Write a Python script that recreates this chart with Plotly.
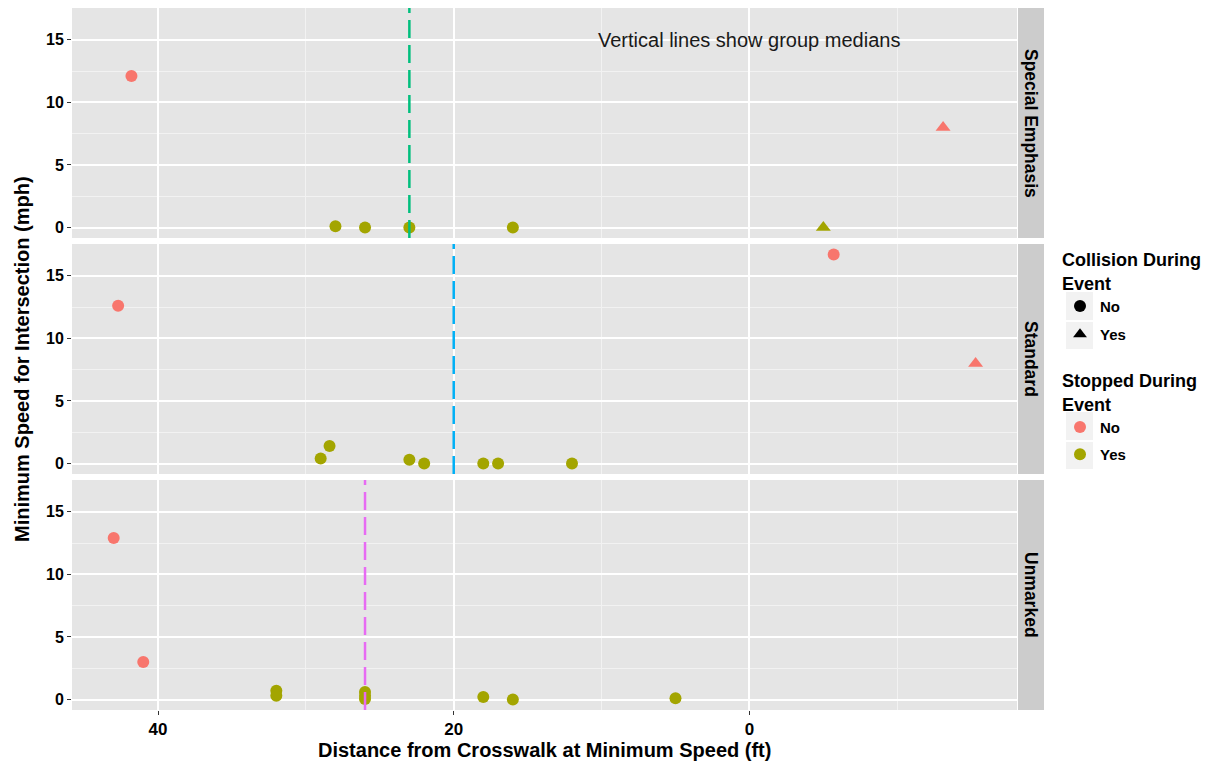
import numpy as np
import plotly.graph_objects as go

# ---- data ----
facets = ["Special Emphasis", "Standard", "Unmarked"]

se_dist = [41.8, 28.0, 26.0, 23.0, 16.0, -5.0, -13.1]
se_speed = [12.1, 0.1, 0.0, 0.0, 0.0, 0.0, 8.0]
se_stopped = ["No", "Yes", "Yes", "Yes", "Yes", "Yes", "No"]
se_collision = ["No", "No", "No", "No", "No", "Yes", "Yes"]

st_dist = [42.7, 29.0, 28.4, 23.0, 22.0, 18.0, 17.0, 12.0, -5.7, -15.3]
st_speed = [12.6, 0.4, 1.4, 0.3, 0.0, 0.0, 0.0, 0.0, 16.7, 8.0]
st_stopped = ["No", "Yes", "Yes", "Yes", "Yes", "Yes", "Yes", "Yes", "No", "No"]
st_collision = ["No", "No", "No", "No", "No", "No", "No", "No", "No", "Yes"]

un_dist = [43.0, 41.0, 32.0, 32.0, 26.0, 26.0, 26.0, 18.0, 16.0, 5.0]
un_speed = [12.9, 3.0, 0.7, 0.3, 0.6, 0.3, 0.05, 0.2, 0.0, 0.1]
un_stopped = ["No", "No", "Yes", "Yes", "Yes", "Yes", "Yes", "Yes", "Yes", "Yes"]
un_collision = ["No"] * 10

x_ticks = [40, 20, 0]
y_ticks = [0, 5, 10, 15]

stop_colors = {"No": "#F8766D", "Yes": "#A3A500"}
median_colors = ["#00BF7D", "#00B0F6", "#E76BF3"]
shape_symbols = {"No": "circle", "Yes": "triangle-up"}

groups = [
    (se_dist, se_speed, se_stopped, se_collision),
    (st_dist, st_speed, st_stopped, st_collision),
    (un_dist, un_speed, un_stopped, un_collision),
]

W, H = 1210, 766
OFF = 8  # page body margin shifts the figure by 8px
px_x = lambda p: (p - OFF) / W
px_y = lambda p: 1 - (p - OFF) / H

panel_px = [(8, 238), (244, 474), (480, 710)]
x_left, x_right = 72, 1017

fig = go.Figure()

FONT = "Liberation Sans, Arial, sans-serif"

for i, (d, s, stp, col) in enumerate(groups):
    xa = "x" if i == 0 else f"x{i+1}"
    ya = "y" if i == 0 else f"y{i+1}"
    d = np.array(d); s = np.array(s)
    stp = np.array(stp); col = np.array(col)
    med = float(np.median(d))
    fig.add_shape(type="line", xref=xa, yref=f"{ya} domain", x0=med, x1=med, y0=0, y1=1,
                  line=dict(color=median_colors[i], width=2.5, dash="18px,7px"), layer="above")
    for sv in ["No", "Yes"]:
        for cv in ["No", "Yes"]:
            m = (stp == sv) & (col == cv)
            if not m.any():
                continue
            fig.add_trace(go.Scatter(
                x=d[m], y=s[m], mode="markers", xaxis=xa, yaxis=ya, showlegend=False,
                marker=dict(color=stop_colors[sv], symbol=shape_symbols[cv],
                            size=12 if cv == "No" else 13, line=dict(width=0)),
            ))

# legend entries: each in its own legend box for ggplot-like spacing
legend_items = [
    ("legend", "No", "black", shape_symbols["No"], "<b>Collision During<br>Event</b>", 243),
    ("legend2", "Yes", "black", shape_symbols["Yes"], None, 318),
    ("legend3", "No", stop_colors["No"], "circle", "<b>Stopped During<br>Event</b>", 364),
    ("legend4", "Yes", stop_colors["Yes"], "circle", None, 438),
]
LEG_X = 1060
legend_layouts = {}
for key, name, color, sym, title, ytop in legend_items:
    fig.add_trace(go.Scatter(x=[None], y=[None], mode="markers", name=name, legend=key,
                             marker=dict(color=color, symbol=sym, size=11)))
    ld = dict(x=px_x(LEG_X), y=px_y(ytop), xanchor="left", yanchor="top",
              font=dict(size=15, family=FONT, color="black", weight="bold"),
              bgcolor="rgba(0,0,0,0)", itemsizing="constant")
    if title:
        ld["title"] = dict(text=title, font=dict(size=18, family=FONT, color="black"))
    legend_layouts[key] = ld

xrange = [45.82, -18.1]
yrange = [-0.835, 17.535]

layout = dict(
    width=W, height=H,
    margin=dict(l=0, r=0, t=0, b=0),
    paper_bgcolor="white", plot_bgcolor="#E5E5E5",
    font=dict(family=FONT, color="black"),
    showlegend=True,
)
layout.update(legend_layouts)

for i in range(3):
    xkey = "xaxis" if i == 0 else f"xaxis{i+1}"
    ykey = "yaxis" if i == 0 else f"yaxis{i+1}"
    top, bot = panel_px[i]
    layout[xkey] = dict(
        domain=[px_x(x_left), px_x(x_right)], range=xrange, anchor="y" if i == 0 else f"y{i+1}",
        tickvals=x_ticks, ticktext=[str(v) for v in x_ticks],
        showticklabels=(i == 2), ticks="outside" if i == 2 else "", ticklen=4, tickcolor="#333333",
        showgrid=True, gridcolor="white", gridwidth=1.6,
        minor=dict(tickvals=[30, 10, -10], showgrid=True, gridcolor="#F2F2F2", gridwidth=1),
        zeroline=False, showline=False, automargin=False,
        tickfont=dict(size=17, family=FONT, color="black", weight="bold"),
    )
    if i != 0:
        layout[xkey]["matches"] = "x"
    layout[ykey] = dict(
        domain=[px_y(bot), px_y(top)], range=yrange, anchor="x" if i == 0 else f"x{i+1}",
        tickvals=y_ticks, ticktext=[str(v) for v in y_ticks],
        ticks="outside", ticklen=4, tickcolor="#333333",
        showgrid=True, gridcolor="white", gridwidth=1.6,
        minor=dict(tickvals=[2.5, 7.5, 12.5], showgrid=True, gridcolor="#F2F2F2", gridwidth=1),
        zeroline=False, showline=False, automargin=False,
        tickfont=dict(size=16, family=FONT, color="black", weight="bold"),
    )

fig.update_layout(**layout)

annotations = []
# legend key backgrounds
key_boxes = [(292, 320), (322, 349), (412, 440), (442, 469)]
for (t, b) in key_boxes:
    fig.add_shape(type="rect", xref="paper", yref="paper",
                  x0=px_x(1066), x1=px_x(1093), y0=px_y(b), y1=px_y(t),
                  fillcolor="#F2F2F2", line=dict(width=0), layer="below")

# strips
for i, name in enumerate(facets):
    top, bot = panel_px[i]
    fig.add_shape(type="rect", xref="paper", yref="paper",
                  x0=px_x(1018), x1=px_x(1044), y0=px_y(bot), y1=px_y(top),
                  fillcolor="#CCCCCC", line=dict(width=0), layer="below")
    annotations.append(dict(text=f"<b>{name}</b>", xref="paper", yref="paper",
                            x=px_x(1031), y=px_y((top + bot) / 2), showarrow=False,
                            textangle=90, font=dict(size=17.5, family=FONT, color="black"),
                            xanchor="center", yanchor="middle"))

annotations.append(dict(text="Vertical lines show group medians", xref="x", yref="y",
                        x=0, y=15, showarrow=False, xanchor="center", yanchor="middle",
                        font=dict(size=20, family=FONT, color="#1a1a1a")))
annotations.append(dict(text="<b>Distance from Crosswalk at Minimum Speed (ft)</b>",
                        xref="paper", yref="paper", x=px_x((x_left + x_right) / 2), y=px_y(750),
                        showarrow=False, xanchor="center", yanchor="middle",
                        font=dict(size=20, family=FONT, color="black")))
annotations.append(dict(text="<b>Minimum Speed for Intersection (mph)</b>",
                        xref="paper", yref="paper", x=px_x(22), y=px_y(359),
                        showarrow=False, xanchor="center", yanchor="middle", textangle=-90,
                        font=dict(size=20, family=FONT, color="black")))
fig.update_layout(annotations=annotations)

fig.write_html("out.html")
